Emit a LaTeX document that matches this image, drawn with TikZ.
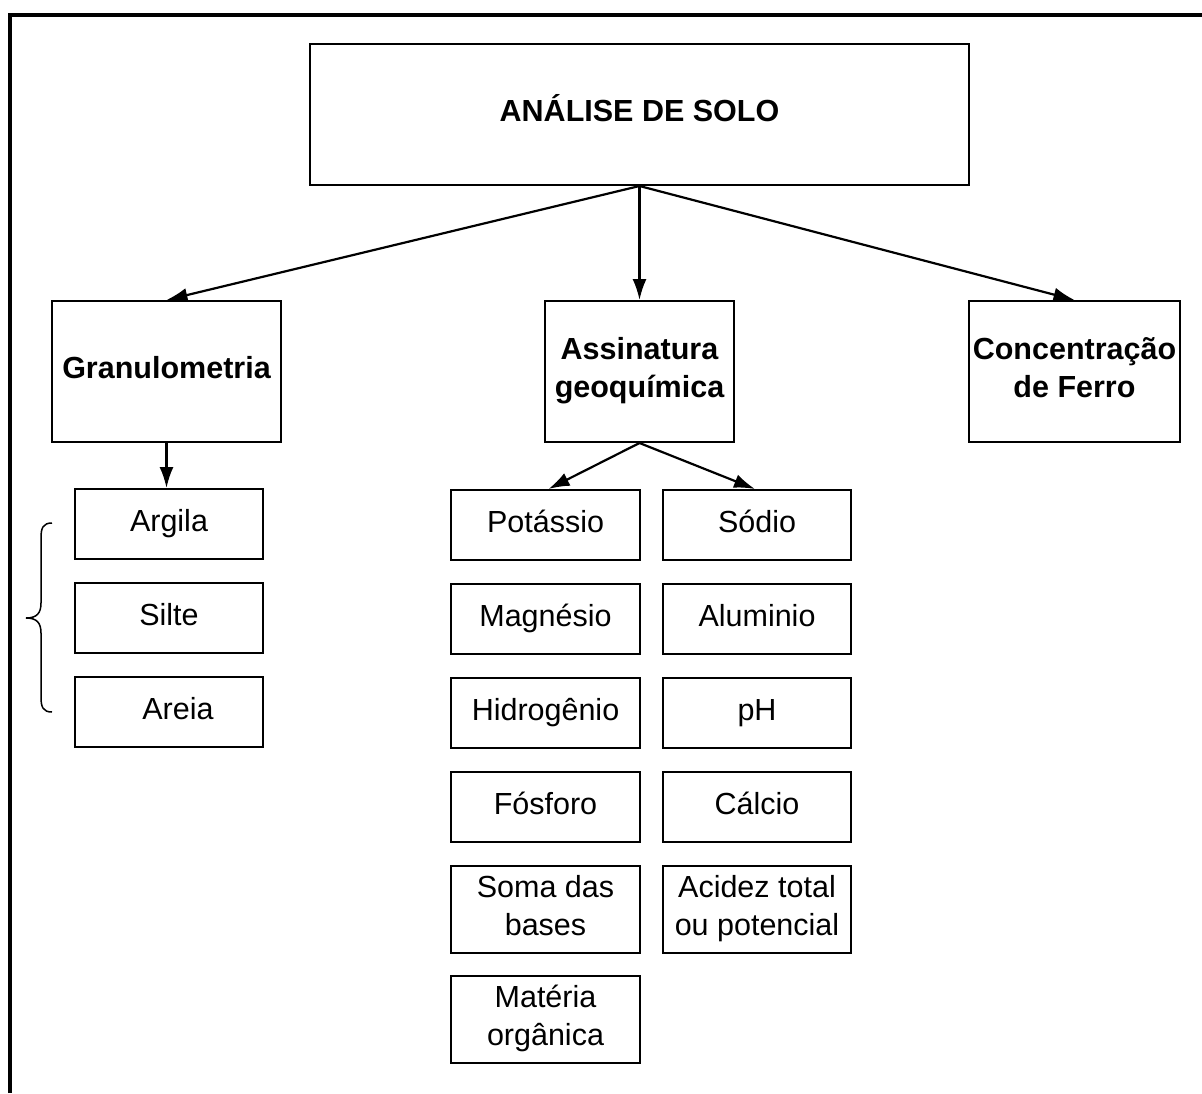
\documentclass[tikz,border=0pt]{standalone}
\usepackage{fontspec}
\setmainfont{Liberation Sans}
\usetikzlibrary{arrows.meta}
\begin{document}
\begin{tikzpicture}[x=1pt,y=-1pt,
  base/.style={draw,line width=2pt,inner sep=0pt,align=center,text depth=8pt,font=\fontsize{30.5}{37.5}\selectfont},
  one/.style={text height=22pt},
  head/.style={base,minimum height=141pt,font=\fontsize{30.5}{37.5}\selectfont\bfseries},
  item/.style={base,minimum height=70pt},
  tall/.style={base,minimum height=87pt},
  conn/.style={line width=2.2pt,-{Latex[length=21pt,width=14pt]}}]
\useasboundingbox (0,0) rectangle (1202,1093);
\fill[white] (0,0) rectangle (1202,1093);
\coordinate (bl) at (10,1093);
\coordinate (tl) at (10,15);
\coordinate (tr) at (1202,15);
\draw[line width=4pt] (bl) -- (tl) -- (tr);

\node[head,one,minimum width=659pt] (top) at (639.5,114.5) {ANÁLISE DE SOLO};
\node[head,one,minimum width=229pt] (gran) at (166.5,371.5) {Granulometria};
\node[head,minimum width=189pt] (assin) at (639.5,371.5) {Assinatura\\geoquímica};
\node[head,minimum width=211pt] (conc) at (1074.5,371.5) {Concentração\\de Ferro};

\node[item,one,minimum width=188pt] (argila) at (169,524) {Argila};
\node[item,one,minimum width=188pt] (silte) at (169,618) {Silte};
\node[item,one,minimum width=188pt] (areia) at (169,712) {\hspace*{18pt}Areia};

\node[item,one,minimum width=189pt] (pot) at (545.5,525) {Potássio};
\node[item,one,minimum width=189pt] (mag) at (545.5,619) {Magnésio};
\node[item,one,minimum width=189pt] (hid) at (545.5,713) {Hidrogênio};
\node[item,one,minimum width=189pt] (fos) at (545.5,807) {Fósforo};
\node[tall,minimum width=189pt] (soma) at (545.5,909.5) {Soma das\\bases};
\node[tall,minimum width=189pt] (mat) at (545.5,1019.5) {Matéria\\orgânica};

\node[item,one,minimum width=188pt] (sod) at (757,525) {Sódio};
\node[item,one,minimum width=188pt] (alu) at (757,619) {Aluminio};
\node[item,one,minimum width=188pt] (ph) at (757,713) {pH};
\node[item,one,minimum width=188pt] (cal) at (757,807) {Cálcio};
\node[tall,minimum width=188pt] (acid) at (757,909.5) {Acidez total\\ou potencial};

\draw[conn] (top.south) -- (gran.north);
\draw[conn] (top.south) -- (assin.north);
\draw[conn] (top.south) -- (conc.north);
\draw[conn] (gran.south) -- (gran.south |- argila.north);
\draw[conn] (assin.south) -- ([xshift=3pt]pot.north);
\draw[conn] (assin.south) -- ([xshift=-2pt]sod.north);

\coordinate (b1) at (52,523);
\coordinate (b2) at (52,712);
\draw[line width=1.5pt] (b1) .. controls (43,523) and (41,528) .. (41,538)
  -- (41,603) .. controls (41,613) and (37,618) .. (26,618)
  .. controls (37,618) and (41,623) .. (41,633)
  -- (41,697) .. controls (41,707) and (43,712) .. (b2);
\end{tikzpicture}
\end{document}
